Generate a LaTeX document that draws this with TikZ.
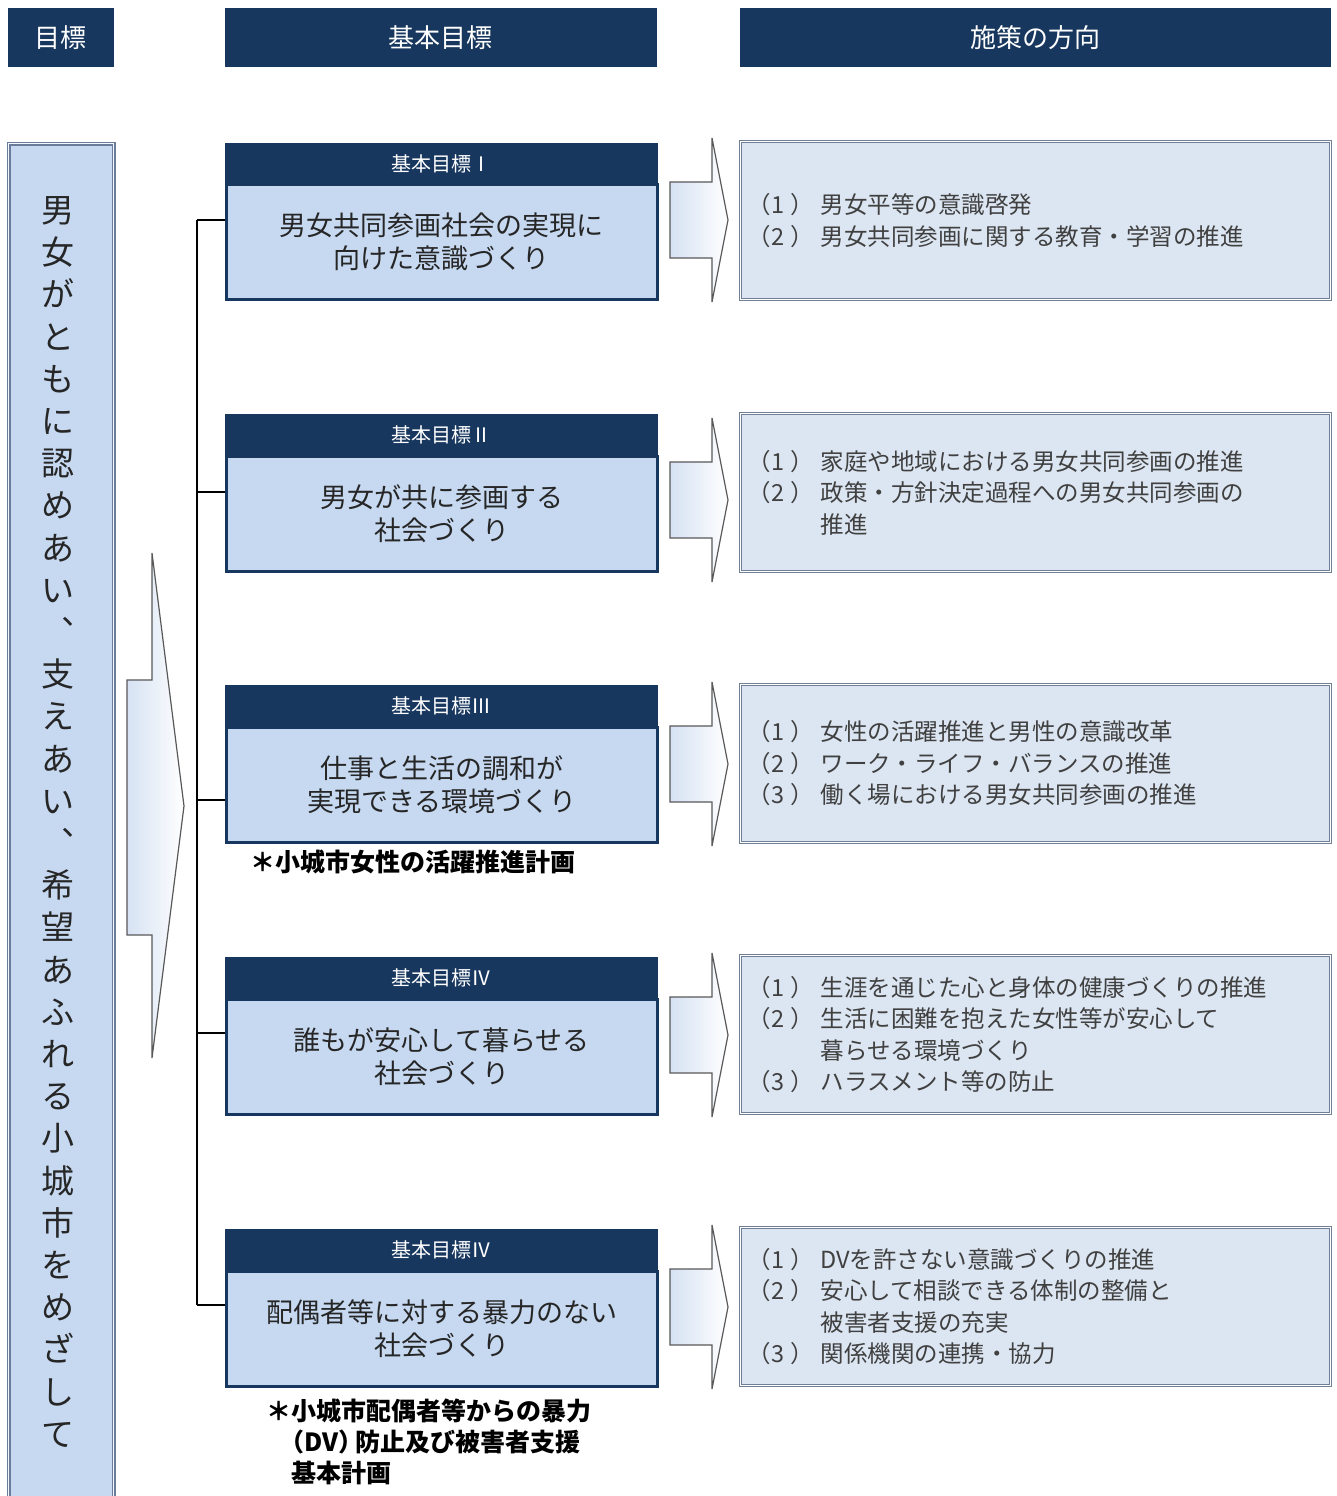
\documentclass[tikz,border=0pt]{standalone}
\usepackage{fontspec}
\setmainfont{Noto Sans CJK JP}
\definecolor{navy}{HTML}{17375E}
\definecolor{goalfill}{HTML}{C6D9F1}
\definecolor{measfill}{HTML}{DCE6F2}
\definecolor{edgegray}{HTML}{6F7F95}
\definecolor{edgeblue}{HTML}{6A7C99}
\definecolor{arrowfill}{HTML}{D6E2F3}
\definecolor{txtgray}{HTML}{404040}
\definecolor{txtdark}{HTML}{262626}
\newcommand{\mitem}[1]{\makebox[62pt][l]{\kern-11pt（#1\kern6pt）}}
\newcommand{\mcont}{\hspace*{62pt}}
\begin{document}
\begin{tikzpicture}[x=1pt,y=-1pt,
  tophdr/.style={fill=navy, draw=navy, text=white, inner sep=0, anchor=north west,
    minimum height=58pt, font=\fontsize{26}{30}\selectfont},
  ghdr/.style={fill=navy, draw=navy, line width=2pt, text=white, inner sep=0, anchor=north west,
    minimum width=431pt, minimum height=40pt, font=\fontsize{20}{24}\selectfont},
  gbody/.style={fill=goalfill, draw=navy, line width=2.5pt, anchor=north west,
    minimum width=431pt, minimum height=115pt, inner sep=0, align=center,
    text=txtdark, font=\fontsize{27}{33}\selectfont},
  meas/.style={fill=measfill, draw=edgegray, double=white, double distance=1.2pt, line width=1.1pt,
    anchor=north west, minimum width=590pt, minimum height=158pt, inner xsep=18pt, inner ysep=0pt,
    text width=554pt, align=left, text=txtgray, font=\fontsize{23.5}{31.5}\selectfont},
  vbox/.style={fill=goalfill, draw=edgeblue, double=white!80!goalfill, double distance=1.4pt, line width=1.5pt,
    anchor=north west, minimum width=105pt, minimum height=1380pt, inner sep=0},
  vtext/.style={inner sep=0, align=center, text=txtdark, font=\fontsize{33}{42.2}\selectfont},
  conn/.style={draw=black, line width=2.5pt},
  blockarrow/.style={draw=black!65, line width=1.2pt, left color=arrowfill, right color=white},
  note/.style={inner sep=0, align=left, text=black, font=\fontsize{25}{31}\selectfont\bfseries}
]
\useasboundingbox (0,0) rectangle (1336,1496);
\fill[white] (0,0) rectangle (1336,1496);

% column headers
\node[tophdr, minimum width=105pt] (t1) at (8,8) {目標};
\node[tophdr, minimum width=431pt] (t2) at (225,8) {基本目標};
\node[tophdr, minimum width=590pt] (t3) at (740,8) {施策の方向};

% left vertical goal
\node[vbox] (vb) at (8,143) {};
\node[vtext] (vt) at (58,822) {男\\女\\が\\と\\も\\に\\認\\め\\あ\\い\\︑\\支\\え\\あ\\い\\︑\\希\\望\\あ\\ふ\\れ\\る\\小\\城\\市\\を\\め\\ざ\\し\\て};

% big arrow
\draw[blockarrow] (127,680) -- (152,680) -- (152,553) -- (184,806) -- (152,1058) -- (152,935) -- (127,935) -- cycle;

% basic goal boxes
\node[gbody] (b1) at (225,183) {男女共同参画社会の実現に\\向けた意識づくり};
\node[ghdr] (h1) at (225,143) {基本目標Ⅰ};
\node[gbody] (b2) at (225,455) {男女が共に参画する\\社会づくり};
\node[ghdr] (h2) at (225,414) {基本目標Ⅱ};
\node[gbody] (b3) at (225,726) {仕事と生活の調和が\\実現できる環境づくり};
\node[ghdr] (h3) at (225,685) {基本目標Ⅲ};
\node[gbody] (b4) at (225,998) {誰もが安心して暮らせる\\社会づくり};
\node[ghdr] (h4) at (225,957) {基本目標Ⅳ};
\node[gbody] (b5) at (225,1270) {配偶者等に対する暴力のない\\社会づくり};
\node[ghdr] (h5) at (225,1229) {基本目標Ⅳ};

% notes
\node[note, anchor=west] (n1) at (250,862) {＊小城市女性の活躍推進計画};
\node[note, anchor=north west] (n2) at (266,1399) {＊小城市配偶者等からの暴力\\\hspace*{25pt}\kern-12pt（DV）\kern-8pt防止及び被害者支援\\\hspace*{25pt}基本計画};

% spine and branches
\coordinate (s1) at (197,220);
\coordinate (s2) at (197,492);
\coordinate (s3) at (197,800);
\coordinate (s4) at (197,1033);
\coordinate (s5) at (197,1305);
\draw[conn] (s1) -- (s5);
\draw[conn] (s1) -- (s1 -| b1.west);
\draw[conn] (s2) -- (s2 -| b2.west);
\draw[conn] (s3) -- (s3 -| b3.west);
\draw[conn] (s4) -- (s4 -| b4.west);
\draw[conn] (s5) -- (s5 -| b5.west);

% small arrows
\foreach \c in {220,500,764,1035,1307}{
  \draw[blockarrow] (670,{\c-38}) -- (712,{\c-38}) -- (712,{\c-82}) -- (728,\c) -- (712,{\c+82}) -- (712,{\c+38}) -- (670,{\c+38}) -- cycle;
}

% measure boxes
\node[meas] (m1) at (740,141) {\mitem{1}男女平等の意識啓発\\\mitem{2}男女共同参画に関する教育・学習の推進};
\node[meas] (m2) at (740,413) {\mitem{1}家庭や地域における男女共同参画の推進\\\mitem{2}政策・方針決定過程への男女共同参画の\\\mcont 推進};
\node[meas] (m3) at (740,684) {\mitem{1}女性の活躍推進と男性の意識改革\\\mitem{2}ワーク・ライフ・バランスの推進\\\mitem{3}働く場における男女共同参画の推進};
\node[meas] (m4) at (740,955) {\mitem{1}生涯を通じた心と身体の健康づくりの推進\\\mitem{2}生活に困難を抱えた女性等が安心して\\\mcont 暮らせる環境づくり\\\mitem{3}ハラスメント等の防止};
\node[meas] (m5) at (740,1227) {\mitem{1}DVを許さない意識づくりの推進\\\mitem{2}安心して相談できる体制の整備と\\\mcont 被害者支援の充実\\\mitem{3}関係機関の連携・協力};
\end{tikzpicture}
\end{document}
